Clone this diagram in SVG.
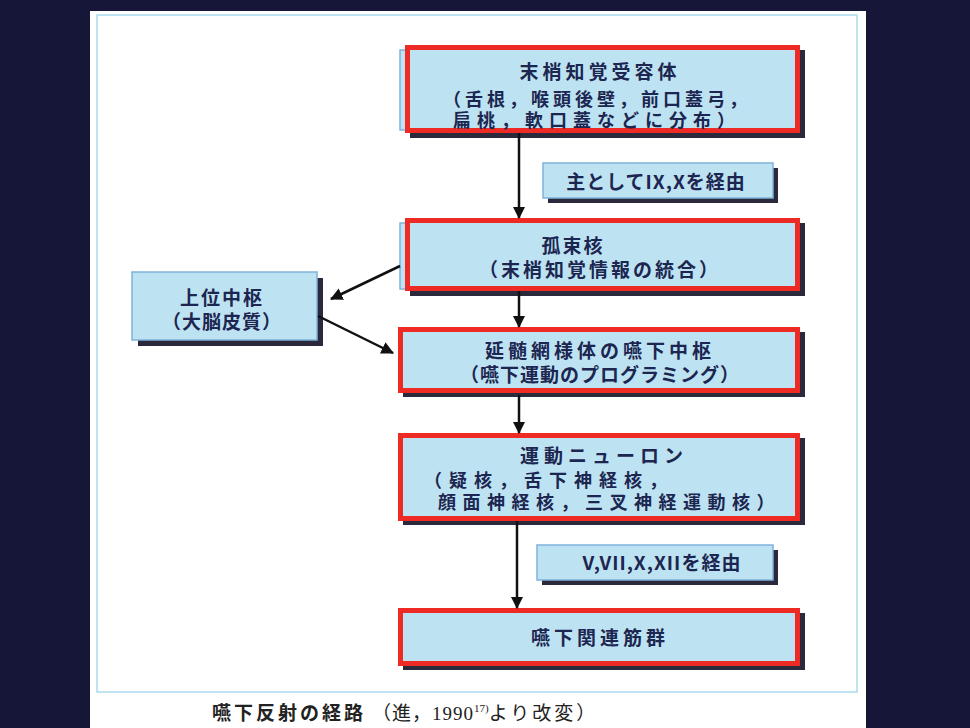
<svg xmlns="http://www.w3.org/2000/svg" width="970" height="728" viewBox="0 0 970 728">
<defs>
<style>
.t{font-family:"Noto Sans CJK JP","Liberation Sans",sans-serif;font-weight:bold;font-size:19px;fill:#1c2650;}
.s{font-size:18px;}
.c{text-anchor:middle;}
.blue{fill:#bde3f3;stroke:#7fb2da;stroke-width:1.5;}
.red{fill:#bde3f3;stroke:#ee2a24;stroke-width:5;}
.shd{fill:#2b2a3c;}
.ln{stroke:#111;stroke-width:2.5;fill:none;}
.cap{font-family:"Noto Sans CJK JP",sans-serif;font-size:19px;fill:#222;}
</style>
<marker id="ah" viewBox="0 0 12 12" refX="11" refY="6" markerWidth="5" markerHeight="5" orient="auto" markerUnits="strokeWidth">
<path d="M0,0 L12,6 L0,12 Z" fill="#111"/>
</marker>
</defs>
<rect x="0" y="0" width="970" height="728" fill="#161638"/>
<rect x="90" y="11" width="776" height="717" fill="#ffffff"/>
<rect x="97" y="15" width="760" height="677" fill="none" stroke="#a9dbee" stroke-width="1.5"/>

<g id="n1">
<rect class="shd" x="410" y="50" width="395" height="88"/>
<rect class="blue" x="400" y="50" width="395" height="80"/>
<rect class="red" x="407.5" y="47.5" width="390" height="83"/>
<text class="t c" x="600" y="79" letter-spacing="4">末梢知覚受容体</text>
<text class="t s" x="443" y="106" letter-spacing="4">（舌根，喉頭後壁，前口蓋弓，</text>
<text class="t s" x="453" y="127" letter-spacing="6">扁桃，軟口蓋などに分布）</text>
</g>

<g id="l1">
<rect class="shd" x="548" y="168" width="230" height="35"/>
<rect class="blue" x="543" y="163" width="230" height="35"/>
<text class="t c" x="656" y="189" letter-spacing="1">主としてIX,Xを経由</text>
</g>

<g id="n2">
<rect class="shd" x="410" y="223" width="395" height="73"/>
<rect class="blue" x="400" y="223" width="395" height="66"/>
<rect class="red" x="407.5" y="220.5" width="390" height="68"/>
<text class="t c" x="573" y="253" letter-spacing="2">孤束核</text>
<text class="t c" x="600" y="277" letter-spacing="3">（末梢知覚情報の統合）</text>
</g>

<g id="n0">
<rect class="shd" x="138" y="278" width="185" height="68"/>
<rect class="blue" x="132" y="272" width="185" height="68"/>
<text class="t c" x="222" y="305" letter-spacing="2">上位中枢</text>
<text class="t c" x="222" y="329" letter-spacing="1">（大脳皮質）</text>
</g>

<g id="n3">
<rect class="shd" x="403" y="332" width="402" height="65"/>
<rect class="red" x="400.5" y="329.5" width="397" height="61"/>
<text class="t c" x="600" y="358" letter-spacing="4">延髄網様体の嚥下中枢</text>
<text class="t c" x="600" y="382" letter-spacing="1">（嚥下運動のプログラミング）</text>
</g>

<g id="n4">
<rect class="shd" x="403" y="438" width="402" height="87"/>
<rect class="red" x="400.5" y="435.5" width="397" height="83"/>
<text class="t c" x="604" y="463" letter-spacing="5">運動ニューロン</text>
<text class="t s" x="424" y="487" letter-spacing="7">（疑核，舌下神経核，</text>
<text class="t s" x="438" y="509" letter-spacing="6.5">顔面神経核，三叉神経運動核）</text>
</g>

<g id="l2">
<rect class="shd" x="542" y="550" width="236" height="35"/>
<rect class="blue" x="537" y="545" width="236" height="35"/>
<text class="t c" x="662" y="570" letter-spacing="1">V,VII,X,XIIを経由</text>
</g>

<g id="n5">
<rect class="shd" x="403" y="613" width="402" height="57"/>
<rect class="red" x="400.5" y="610.5" width="397" height="53"/>
<text class="t c" x="600" y="645" letter-spacing="4">嚥下関連筋群</text>
</g>

<g id="connectors">
<line class="ln" x1="519" y1="133" x2="519" y2="218" marker-end="url(#ah)"/>
<line class="ln" x1="519" y1="291" x2="519" y2="327" marker-end="url(#ah)"/>
<line class="ln" x1="519" y1="395" x2="519" y2="433" marker-end="url(#ah)"/>
<line class="ln" x1="517" y1="521" x2="517" y2="608" marker-end="url(#ah)"/>
<line class="ln" x1="400" y1="266" x2="331" y2="299" marker-end="url(#ah)"/>
<line class="ln" x1="318" y1="316" x2="393" y2="353" marker-end="url(#ah)"/>
</g>

<text class="cap" y="720"><tspan x="212" font-weight="bold" letter-spacing="3">嚥下反射の経路</tspan><tspan dx="6" font-family="Liberation Serif,Noto Sans CJK JP,serif" letter-spacing="1">（進，1990</tspan><tspan font-family="Liberation Serif,serif" font-size="11" dy="-8">17)</tspan><tspan dy="8" letter-spacing="3">より改変）</tspan></text>
</svg>
